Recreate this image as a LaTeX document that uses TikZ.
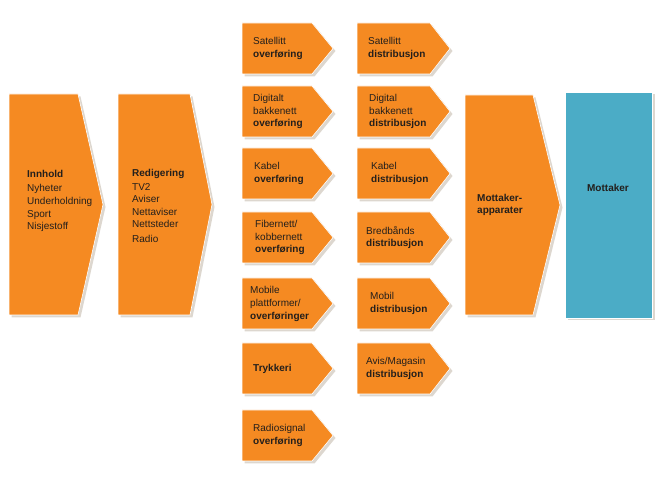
\documentclass[tikz,border=0pt]{standalone}
\usepackage{fontspec}
\setmainfont{Liberation Sans}

\definecolor{chevorange}{HTML}{F58A22}
\definecolor{chevshadow}{HTML}{DDD7CF}
\definecolor{mottblue}{HTML}{4BACC6}
\definecolor{labeltext}{HTML}{231F1C}

% chevron: left x, top y, body width, tip width, height
\newcommand{\chevron}[5]{%
  \fill[chevshadow] (#1+2.5,#2+2.5) -- ++(#3,0) -- ++(#4,#5/2) -- ++(-#4,#5/2) -- ++(-#3,0) -- cycle;
  \fill[chevorange, draw=white, line width=0.6pt] (#1,#2) -- ++(#3,0) -- ++(#4,#5/2) -- ++(-#4,#5/2) -- ++(-#3,0) -- cycle;
}

\tikzset{
  lbl/.style={align=left, anchor=west, inner sep=0pt, text=labeltext, font=\fontsize{10}{12.6}\selectfont},
}

\begin{document}
\begin{tikzpicture}[x=1pt, y=-1pt]
  \useasboundingbox (0,0) rectangle (657,481);

  % big chevrons
  \chevron{9}{94}{69}{25}{221}
  \chevron{118}{94}{72}{22}{221}
  \chevron{465}{95}{68}{27}{220}

  % receiver box
  \fill[chevshadow] (567.5,94.5) rectangle (654.5,320.5);
  \fill[mottblue, draw=white, line width=0.6pt] (565,92) rectangle (652,318);

  % transfer and distribution chevrons
  \foreach \y in {23,86,148,212,278,343,410}{
    \chevron{242}{\y}{70}{21}{51}
  }
  \foreach \y in {23,86,148,212,278,343}{
    \chevron{357}{\y}{73}{20}{51}
  }

  \node[lbl] (innhold) at (27,201) {\textbf{Innhold}\\[2pt]Nyheter\\Underholdning\\Sport\\Nisjestoff};
  \node[lbl] (redigering) at (132,206) {\textbf{Redigering}\\[1pt]TV2\\Aviser\\Nettaviser\\Nettsteder\\[2pt]Radio};

  \node[lbl] (satO) at (253,48.5) {Satellitt\\\textbf{overføring}};
  \node[lbl] (bakkeO) at (253,111.5) {Digitalt\\bakkenett\\\textbf{overføring}};
  \node[lbl] (kabelO) at (254,173.5) {Kabel\\\textbf{overføring}};
  \node[lbl] (fiberO) at (255,237.5) {Fibernett/\\kobbernett\\\textbf{overføring}};
  \node[lbl] (mobilO) at (250,304) {Mobile\\plattformer/\\\textbf{overføringer}};
  \node[lbl] (trykkeri) at (253,368.5) {\textbf{Trykkeri}};
  \node[lbl] (radioO) at (253,435.5) {Radiosignal\\\textbf{overføring}};

  \node[lbl] (satD) at (368,48.5) {Satellitt\\\textbf{distribusjon}};
  \node[lbl] (bakkeD) at (369,111.5) {Digital\\bakkenett\\\textbf{distribusjon}};
  \node[lbl] (kabelD) at (371,173.5) {Kabel\\\textbf{distribusjon}};
  \node[lbl] (bredD) at (366,237.5) {Bredbånds\\\textbf{distribusjon}};
  \node[lbl] (mobilD) at (370,303.5) {Mobil\\\textbf{distribusjon}};
  \node[lbl] (avisD) at (366,368.5) {Avis/Magasin\\\textbf{distribusjon}};

  \node[lbl] (apparater) at (477,205) {\textbf{Mottaker-}\\\textbf{apparater}};
  \node[lbl, anchor=center] (mottaker) at (608,188) {\textbf{Mottaker}};
\end{tikzpicture}
\end{document}
